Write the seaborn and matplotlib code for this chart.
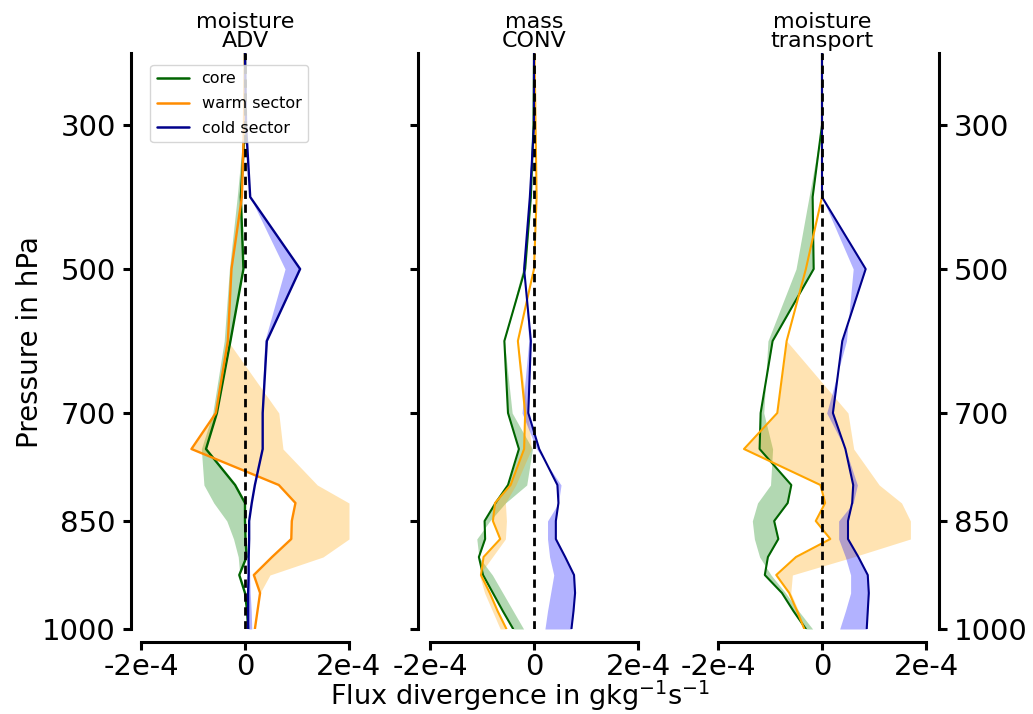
import numpy as np
import pandas as pd
import matplotlib
matplotlib.use("Agg")
import matplotlib.pyplot as plt
import seaborn as sns

sns.set_style("ticks")
plt.rcParams['font.family'] = ['DejaVu Sans']
plt.rcParams.update({"axes.edgecolor": "black", "xtick.color": "black",
                     "ytick.color": "black", "text.color": "black",
                     "axes.labelcolor": "black"})

# ---------------- data ----------------
pressure = [200, 300, 400, 500, 600, 700, 750, 800, 825, 850, 875, 900, 925, 950, 975, 1000]
panel_titles = ["moisture\nADV", "mass\nCONV", "moisture\ntransport"]
series_names = ["core", "warm sector", "cold sector"]
yticks = [300, 500, 700, 850, 1000]
xticks = [-2e-4, 0, 2e-4]
xticklabels = ["-2e-4", "0", "2e-4"]

# values in units of 1e-4 g/kg/s
adv_core      = [0, 0, -0.08, -0.03, -0.28, -0.54, -0.75, -0.19, 0.0, 0.0, 0.01, 0.03, -0.11, 0.0, 0.04, 0.06]
adv_core_b    = [0, -0.02, -0.15, -0.30, -0.40, -0.62, -0.84, -0.79, -0.60, -0.35, -0.22, -0.13, -0.10, 0.0, 0.04, 0.06]
adv_warm      = [0, -0.02, -0.06, -0.26, -0.33, -0.56, -1.03, 0.65, 0.97, 0.90, 0.89, 0.52, 0.17, 0.29, 0.24, 0.19]
adv_warm_b    = [0, -0.02, -0.06, -0.26, -0.33, 0.65, 0.73, 1.39, 2.0, 2.0, 2.0, 1.50, 0.48, 0.29, 0.24, 0.19]
adv_cold      = [0, 0.02, 0.10, 1.06, 0.42, 0.34, 0.34, 0.19, 0.13, 0.08, 0.08, 0.07, 0.07, 0.06, 0.06, 0.06]
adv_cold_b    = [0, 0.02, 0.10, 0.77, 0.38, 0.32, 0.33, 0.19, 0.13, 0.08, 0.08, 0.08, 0.09, 0.10, 0.12, 0.13]

conv_core     = [0, -0.01, -0.06, -0.17, -0.57, -0.50, -0.29, -0.50, -0.74, -0.95, -0.94, -1.06, -0.98, -0.79, -0.60, -0.40]
conv_core_b   = [0, -0.01, -0.06, -0.22, -0.57, -0.42, -0.03, -0.14, -0.55, -0.85, -1.10, -1.06, -0.80, -0.60, -0.40, -0.20]
conv_warm     = [0.01, 0.03, 0.05, 0.0, -0.31, -0.17, -0.19, -0.45, -0.75, -0.79, -0.65, -0.97, -1.02, -0.85, -0.70, -0.53]
conv_warm_b   = [0.01, 0.03, 0.05, 0.0, -0.31, -0.12, -0.05, -0.35, -0.55, -0.53, -0.55, -0.80, -1.05, -0.95, -0.80, -0.65]
conv_cold     = [0, 0, -0.08, -0.19, -0.06, -0.11, 0.10, 0.45, 0.47, 0.42, 0.42, 0.60, 0.77, 0.79, 0.76, 0.72]
conv_cold_b   = [0, 0, -0.08, -0.19, -0.10, -0.23, 0.05, 0.52, 0.47, 0.26, 0.26, 0.30, 0.38, 0.32, 0.26, 0.21]

trans_core    = [0, 0, -0.18, -0.16, -0.95, -1.18, -1.20, -0.59, -0.66, -0.92, -0.84, -1.04, -1.10, -0.77, -0.55, -0.31]
trans_core_b  = [0, 0, -0.25, -0.50, -1.04, -1.12, -0.95, -0.99, -1.24, -1.34, -1.30, -1.20, -0.98, -0.70, -0.45, -0.18]
trans_warm    = [0, 0, 0, -0.31, -0.68, -0.86, -1.50, -0.03, 0.06, -0.12, 0.16, -0.50, -0.88, -0.63, -0.48, -0.34]
trans_warm_b  = [0, 0, 0, -0.31, -0.68, 0.50, 0.61, 1.10, 1.53, 1.70, 1.70, 0.60, -0.57, -0.60, -0.45, -0.34]
trans_cold    = [0, 0, 0, 0.84, 0.39, 0.21, 0.45, 0.60, 0.58, 0.50, 0.50, 0.70, 0.88, 0.90, 0.88, 0.86]
trans_cold_b  = [0, 0, 0, 0.60, 0.47, 0.09, 0.45, 0.68, 0.60, 0.32, 0.32, 0.45, 0.55, 0.55, 0.45, 0.34]

panels = [
    [(adv_core, adv_core_b), (adv_warm, adv_warm_b), (adv_cold, adv_cold_b)],
    [(conv_core, conv_core_b), (conv_warm, conv_warm_b), (conv_cold, conv_cold_b)],
    [(trans_core, trans_core_b), (trans_warm, trans_warm_b), (trans_cold, trans_cold_b)],
]

line_colors = [["darkgreen", "darkorange", "darkblue"],
               ["darkgreen", "orange", "darkblue"],
               ["darkgreen", "orange", "darkblue"]]
fill_colors = ["green", "orange", "blue"]

# ---------------- figure ----------------
W, H = 1033, 714
fig = plt.figure(figsize=(W / 100, H / 100), dpi=100)
lefts = [141, 430, 718]
ax_w = 208
ax_top, ax_bot = 53, 629
axes = []
for i, l in enumerate(lefts):
    ax = fig.add_axes([l / W, (H - ax_bot) / H, ax_w / W, (ax_bot - ax_top) / H])
    axes.append(ax)

P = np.array(pressure)
for i, ax in enumerate(axes):
    for j, (vals, band) in enumerate(panels[i]):
        v = np.array(vals) * 1e-4
        b = np.array(band) * 1e-4
        ax.fill_betweenx(P, v, b, color=fill_colors[j], alpha=0.3, lw=0)
        df = pd.DataFrame({"x": v, "p": P})
        sns.lineplot(data=df, x="x", y="p", sort=False, estimator=None,
                     color=line_colors[i][j], lw=1.7 if i == 0 else 1.5, ax=ax,
                     label=series_names[j] if i == 0 else None)
    ax.axvline(0, color="black", ls="--", lw=2, dashes=(3, 2))
    ax.set_xlim(-2e-4, 2e-4)
    ax.set_ylim(1000, 200)
    ax.set_xticks(xticks)
    ax.set_xticklabels(xticklabels)
    ax.set_yticks(yticks)
    ax.set_yticklabels([str(t) for t in yticks])
    ax.set_xlabel("")
    ax.set_ylabel("")
    ax.set_title(panel_titles[i], fontsize=16, pad=4, linespacing=0.95)
    ax.tick_params(axis="both", labelsize=21, width=2.2, length=6, pad=5)
    ax.tick_params(axis="x", pad=2.5)
    for s in ax.spines.values():
        s.set_linewidth(2.2)
    ax.spines["top"].set_visible(False)
    ax.spines["bottom"].set_position(("outward", 9))
    if i == 0:
        ax.spines["right"].set_visible(False)
        ax.spines["left"].set_position(("outward", 7))
    elif i == 1:
        ax.spines["right"].set_visible(False)
        ax.spines["left"].set_position(("outward", 9))
        ax.tick_params(axis="y", labelleft=False)
    else:
        ax.spines["left"].set_visible(False)
        ax.spines["right"].set_position(("outward", 9))
        ax.yaxis.set_ticks_position("right")
        ax.tick_params(axis="y", labelright=True, labelleft=False)

leg = axes[0].legend(loc="upper left", fontsize=11.5, frameon=True,
                     bbox_to_anchor=(0.03, 0.985), borderaxespad=0.2,
                     handlelength=2.0, labelspacing=0.62)
for h in leg.get_lines():
    h.set_linewidth(1.8)
for ax in axes[1:]:
    if ax.get_legend() is not None:
        ax.get_legend().remove()

fig.text(30 / W, 1 - 342 / H, "Pressure in hPa", rotation=90, fontsize=20,
         ha="center", va="center")
fig.text(520 / W, 1 - 696 / H, r"Flux divergence in gkg$^{-1}$s$^{-1}$", fontsize=19.5,
         ha="center", va="center")

fig.savefig("out.png", dpi=100)
